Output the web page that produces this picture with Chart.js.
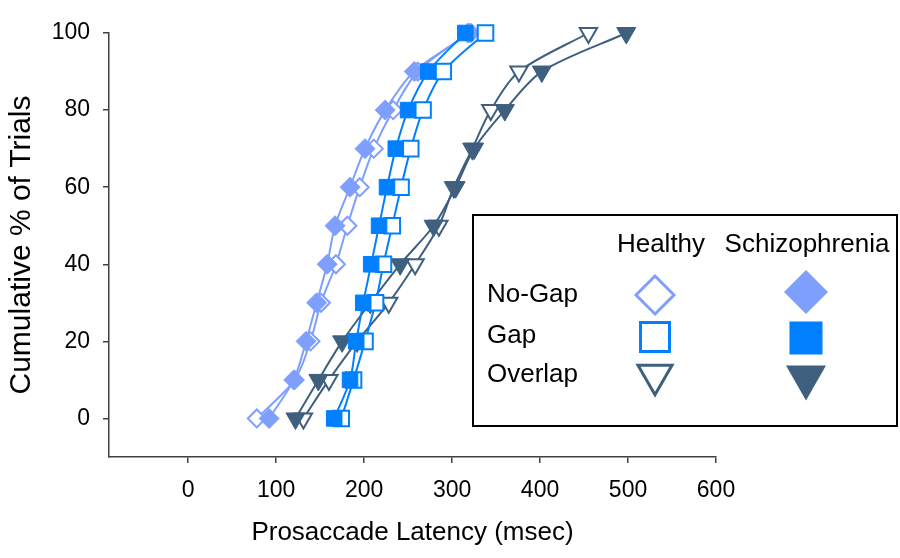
<!DOCTYPE html>
<html>
<head>
<meta charset="utf-8">
<script src="https://cdn.jsdelivr.net/npm/chart.js@4.4.1/dist/chart.umd.min.js"></script>
<style>
  html, body { margin: 0; padding: 0; background: #fff; }
  #wrap { width: 900px; height: 558px; position: relative; }
</style>
</head>
<body>
<div id="wrap"><canvas id="chart"></canvas></div>
<script>
// cumulative % levels shared by every curve
const LEVELS = [0, 10, 20, 30, 40, 50, 60, 70, 80, 90, 100];

// latency (msec) at each level
const HEALTHY_NOGAP = [78, 121, 139, 151, 168, 181, 195, 211, 233, 261, 318];
const SCHIZ_NOGAP = [92, 120, 134, 146, 158, 167, 184, 201, 224, 257, 321];
const HEALTHY_GAP = [174, 188, 201, 213, 222, 232, 242, 253, 267, 290, 338];
const SCHIZ_GAP = [166, 184, 191, 199, 208, 217, 226, 236, 250, 273, 315];
const HEALTHY_OVERLAP = [131, 160, 192, 228, 258, 285, 302, 323, 344, 376, 455];
const SCHIZ_OVERLAP = [122, 148, 175, 207, 241, 279, 304, 325, 360, 402, 498];

const X_TICKS = [0, 100, 200, 300, 400, 500, 600];
const Y_TICKS = [0, 20, 40, 60, 80, 100];

const COLORS = {
  nogap: '#7f9fff',
  gap: '#0080ff',
  overlap: '#3f5f7f',
};
const AXIS_COLOR = '#404040';
const FONT = '"Liberation Sans", Arial, sans-serif';

function points(xs) {
  return xs.map((x, i) => ({ x, y: LEVELS[i] }));
}

function series(label, xs, color, style, radius, open, order) {
  return {
    label,
    data: points(xs),
    order,
    showLine: true,
    borderColor: color,
    borderWidth: 2,
    tension: 0.3,
    pointStyle: style,
    pointRotation: style === 'triangle' ? 180 : 0,
    pointRadius: radius,
    pointHoverRadius: radius,
    pointBackgroundColor: open ? '#fff' : color,
    pointBorderColor: color,
    pointBorderWidth: open ? 2 : 1,
    clip: false,
  };
}

// hand-drawn legend box: rows are conditions, columns are groups
function drawMarker(ctx, kind, x, y, size, color, open) {
  ctx.beginPath();
  if (kind === 'diamond') {
    ctx.moveTo(x, y - size);
    ctx.lineTo(x + size, y);
    ctx.lineTo(x, y + size);
    ctx.lineTo(x - size, y);
  } else if (kind === 'square') {
    ctx.rect(x - size / 2, y - size / 2, size, size);
  } else {
    const h = size * 0.87;
    ctx.moveTo(x - size / 2, y - h / 2);
    ctx.lineTo(x + size / 2, y - h / 2);
    ctx.lineTo(x, y + h / 2);
  }
  ctx.closePath();
  if (open) {
    ctx.fillStyle = '#fff';
    ctx.fill();
    ctx.lineWidth = 3;
    ctx.strokeStyle = color;
    ctx.stroke();
  } else {
    ctx.fillStyle = color;
    ctx.fill();
  }
}

const legendBox = {
  id: 'legendBox',
  afterDraw(chart) {
    const ctx = chart.ctx;
    ctx.save();
    ctx.lineWidth = 2;
    ctx.strokeStyle = '#000';
    ctx.strokeRect(473, 215, 424, 211);

    ctx.fillStyle = '#000';
    ctx.font = `26px ${FONT}`;
    ctx.textBaseline = 'middle';
    ctx.textAlign = 'center';
    ctx.fillText('Healthy', 661, 245);
    ctx.fillText('Schizophrenia', 807, 245);

    ctx.textAlign = 'left';
    ctx.fillText('No-Gap', 487, 295);
    ctx.fillText('Gap', 487, 336);
    ctx.fillText('Overlap', 487, 375);

    drawMarker(ctx, 'diamond', 655, 295, 19, COLORS.nogap, true);
    drawMarker(ctx, 'diamond', 806, 292, 22, COLORS.nogap, false);
    drawMarker(ctx, 'square', 655, 337, 29, COLORS.gap, true);
    drawMarker(ctx, 'square', 806, 338, 33, COLORS.gap, false);
    drawMarker(ctx, 'triangle', 655, 380, 34, COLORS.overlap, true);
    drawMarker(ctx, 'triangle', 806, 383, 40, COLORS.overlap, false);
    ctx.restore();
  },
};

new Chart(document.getElementById('chart'), {
  type: 'scatter',
  data: {
    datasets: [
      series('Schizophrenia Gap', SCHIZ_GAP, COLORS.gap, 'rect', 11, false, 1),
      series('Healthy Gap', HEALTHY_GAP, COLORS.gap, 'rect', 11, true, 2),
      series('Schizophrenia No-Gap', SCHIZ_NOGAP, COLORS.nogap, 'rectRot', 10, false, 3),
      series('Healthy No-Gap', HEALTHY_NOGAP, COLORS.nogap, 'rectRot', 9, true, 4),
      series('Schizophrenia Overlap', SCHIZ_OVERLAP, COLORS.overlap, 'triangle', 11, false, 5),
      series('Healthy Overlap', HEALTHY_OVERLAP, COLORS.overlap, 'triangle', 10, true, 6),
    ],
  },
  options: {
    responsive: true,
    maintainAspectRatio: false,
    animation: false,
    events: [],
    layout: { padding: { left: 0, top: 33, right: 184, bottom: 0 } },
    plugins: {
      legend: { display: false },
      tooltip: { enabled: false },
    },
    scales: {
      x: {
        type: 'linear',
        min: -90,
        max: 600,
        afterBuildTicks: scale => { scale.ticks = X_TICKS.map(value => ({ value })); },
        afterFit: scale => { scale.height = 101; },
        ticks: { color: '#000', font: { family: FONT, size: 23 }, padding: 14 },
        grid: { drawOnChartArea: false, tickLength: 6, color: AXIS_COLOR, lineWidth: 1.5 },
        border: { color: AXIS_COLOR, width: 1.5 },
        title: {
          display: true,
          text: 'Prosaccade Latency (msec)',
          color: '#000',
          font: { family: FONT, size: 26 },
          padding: { top: 0, bottom: 10 },
        },
      },
      y: {
        type: 'linear',
        min: -10,
        max: 100,
        afterBuildTicks: scale => { scale.ticks = Y_TICKS.map(value => ({ value })); },
        afterFit: scale => { scale.width = 109; },
        ticks: { color: '#000', font: { family: FONT, size: 23 }, padding: 13 },
        grid: { drawOnChartArea: false, tickLength: 6, color: AXIS_COLOR, lineWidth: 1.5 },
        border: { color: AXIS_COLOR, width: 1.5 },
        title: {
          display: true,
          text: 'Cumulative % of Trials',
          color: '#000',
          font: { family: FONT, size: 30 },
          padding: { top: 4, bottom: 0 },
        },
      },
    },
  },
  plugins: [legendBox],
});
</script>
</body>
</html>
